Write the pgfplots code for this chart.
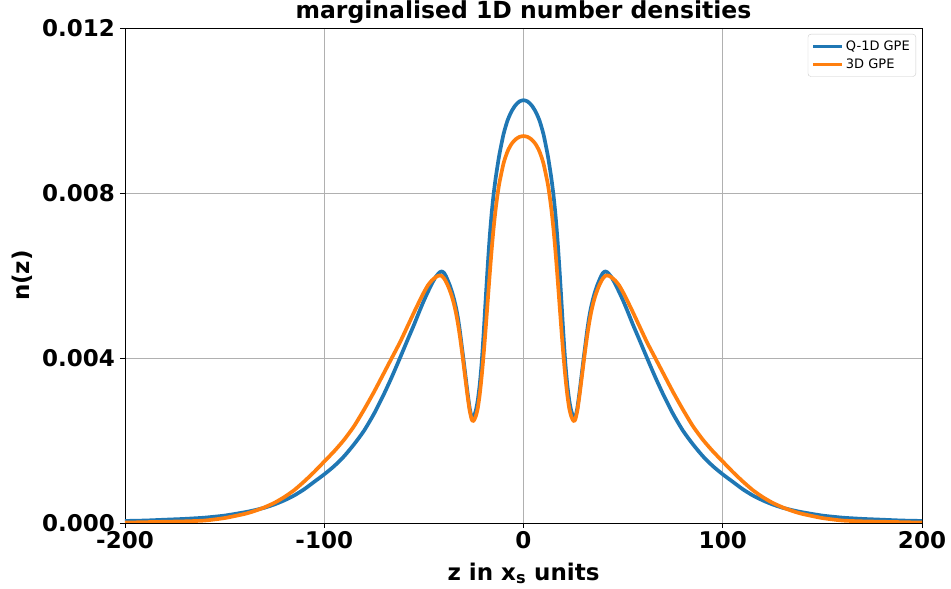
\documentclass[border=0pt]{standalone}
\usepackage{fontspec}
\setmainfont{DejaVu Sans}
\usepackage{pgfplots}
\usepackage{pgfplotstable}
\pgfplotsset{compat=1.18}

\definecolor{mplblue}{HTML}{1F77B4}
\definecolor{mplorange}{HTML}{FF7F0E}
\definecolor{gridgrey}{HTML}{B0B0B0}
\definecolor{framegrey}{HTML}{CCCCCC}

% marginalised 1D density, quasi-1D GPE
\pgfplotstableread{
z n
-200 0.00005
-190 0.00006
-180 0.00008
-170 0.00010
-160 0.00013
-150 0.00018
-140 0.00026
-135 0.00031
-130 0.00037
-125 0.00045
-120 0.00055
-115 0.00067
-110 0.00082
-105 0.00100
-100 0.00118
-95 0.00138
-90 0.00162
-85 0.00191
-80 0.00224
-75 0.00265
-70 0.00313
-66 0.00355
-62 0.00400
-58 0.00446
-55 0.00480
-52 0.00516
-50 0.00539
-48 0.00560
-46 0.00580
-44 0.00597
-43 0.00603
-42 0.00608
-41 0.00610
-40 0.00607
-39 0.00599
-38 0.00588
-37 0.00576
-36 0.00562
-35 0.00545
-34 0.00525
-33 0.00500
-32 0.00468
-31 0.00430
-30 0.00392
-29 0.00352
-28 0.00313
-27 0.00278
-26 0.00256
-25.5 0.00253
-25 0.00257
-24 0.00271
-23 0.00296
-22 0.00334
-21 0.00388
-20 0.00460
-19 0.00541
-18 0.00620
-17 0.00691
-16 0.00750
-15 0.00797
-14 0.00835
-13 0.00867
-12 0.00896
-10 0.00943
-8 0.00976
-6 0.00998
-4 0.01013
-2 0.01022
0 0.01025
2 0.01022
4 0.01013
6 0.00998
8 0.00976
10 0.00943
12 0.00896
13 0.00867
14 0.00835
15 0.00797
16 0.00750
17 0.00691
18 0.00620
19 0.00541
20 0.00460
21 0.00388
22 0.00334
23 0.00296
24 0.00271
25 0.00257
25.5 0.00253
26 0.00256
27 0.00278
28 0.00313
29 0.00352
30 0.00392
31 0.00430
32 0.00468
33 0.00500
34 0.00525
35 0.00545
36 0.00562
37 0.00576
38 0.00588
39 0.00599
40 0.00607
41 0.00610
42 0.00608
43 0.00603
44 0.00597
46 0.00580
48 0.00560
50 0.00539
52 0.00516
55 0.00480
58 0.00446
62 0.00400
66 0.00355
70 0.00313
75 0.00265
80 0.00224
85 0.00191
90 0.00162
95 0.00138
100 0.00118
105 0.00100
110 0.00082
115 0.00067
120 0.00055
125 0.00045
130 0.00037
135 0.00031
140 0.00026
150 0.00018
160 0.00013
170 0.00010
180 0.00008
190 0.00006
200 0.00005
}\qonedtable

% marginalised 1D density, full 3D GPE
\pgfplotstableread{
z n
-200 0.00001
-190 0.00002
-180 0.00003
-170 0.00004
-160 0.00006
-150 0.00012
-140 0.00022
-135 0.00029
-130 0.00038
-125 0.00049
-120 0.00063
-115 0.00080
-110 0.00101
-105 0.00124
-100 0.00149
-95 0.00174
-90 0.00202
-85 0.00235
-80 0.00275
-75 0.00318
-70 0.00364
-66 0.00401
-62 0.00438
-58 0.00479
-55 0.00510
-52 0.00540
-50 0.00559
-48 0.00576
-46 0.00588
-44 0.00596
-43 0.00599
-42 0.00600
-41 0.00599
-40 0.00594
-39 0.00586
-38 0.00576
-37 0.00564
-36 0.00550
-35 0.00533
-34 0.00512
-33 0.00486
-32 0.00455
-31 0.00420
-30 0.00382
-29 0.00343
-28 0.00305
-27 0.00272
-26 0.00251
-25.5 0.00247
-25 0.00248
-24 0.00258
-23 0.00277
-22 0.00310
-21 0.00355
-20 0.00409
-19 0.00470
-18 0.00535
-17 0.00600
-16 0.00661
-15 0.00715
-14 0.00760
-13 0.00797
-12 0.00827
-10 0.00872
-8 0.00901
-6 0.00919
-4 0.00930
-2 0.00936
0 0.00938
2 0.00936
4 0.00930
6 0.00919
8 0.00901
10 0.00872
12 0.00827
13 0.00797
14 0.00760
15 0.00715
16 0.00661
17 0.00600
18 0.00535
19 0.00470
20 0.00409
21 0.00355
22 0.00310
23 0.00277
24 0.00258
25 0.00248
25.5 0.00247
26 0.00251
27 0.00272
28 0.00305
29 0.00343
30 0.00382
31 0.00420
32 0.00455
33 0.00486
34 0.00512
35 0.00533
36 0.00550
37 0.00564
38 0.00576
39 0.00586
40 0.00594
41 0.00599
42 0.00600
43 0.00599
44 0.00596
46 0.00588
48 0.00576
50 0.00559
52 0.00540
55 0.00510
58 0.00479
62 0.00438
66 0.00401
70 0.00364
75 0.00318
80 0.00275
85 0.00235
90 0.00202
95 0.00174
100 0.00149
105 0.00124
110 0.00101
115 0.00080
120 0.00063
125 0.00049
130 0.00038
135 0.00029
140 0.00022
150 0.00012
160 0.00006
170 0.00004
180 0.00003
190 0.00002
200 0.00001
}\threedtable

\begin{document}
\begin{tikzpicture}
\begin{axis}[
  scale only axis,
  width=797pt, height=495pt,
  xmin=-200, xmax=200, ymin=0, ymax=0.012,
  xtick={-200,-100,0,100,200},
  xticklabels={-200,-100,0,100,200},
  ytick={0,0.004,0.008,0.012},
  yticklabels={0.000,0.004,0.008,0.012},
  scaled y ticks=false,
  tick align=outside,
  xtick pos=bottom, ytick pos=left,
  major tick length=5pt,
  every tick/.style={black, line width=0.8pt},
  axis line style={black, line width=0.9pt},
  grid=major,
  major grid style={gridgrey, line width=0.8pt},
  tick label style={font=\bfseries\fontsize{23}{24}\selectfont},
  xticklabel style={inner sep=3pt},
  yticklabel style={inner sep=5pt},
  title={marginalised 1D number densities},
  title style={font=\bfseries\fontsize{23.5}{24}\selectfont,
    at={(axis description cs:0.5,1)}, anchor=base, yshift=3pt},
  xlabel={z in x\textsubscript{s} units},
  xlabel style={font=\bfseries\fontsize{23}{24}\selectfont,
    at={(axis description cs:0.5,-0.1152)}, anchor=base},
  ylabel={n(z)},
  ylabel style={font=\bfseries\fontsize{23}{24}\selectfont,
    at={(axis description cs:-0.1292,0.5)}, anchor=center},
  legend cell align=left,
  legend style={at={(axis description cs:1,1)}, anchor=north east,
    xshift=-6pt, yshift=-6pt,
    draw=framegrey, rounded corners=3pt, fill=white,
    font=\fontsize{13}{15}\selectfont,
    inner xsep=4pt, inner ysep=4.5pt, row sep=3pt},
  legend image code/.code={\draw[#1, line width=3pt] (0pt,0pt) -- (29pt,0pt);},
]
\addplot[mplblue, line width=3.7pt, line join=round, smooth, tension=0.4]
  table[x=z, y=n] {\qonedtable};
\addlegendentry{Q-1D GPE}
\addplot[mplorange, line width=3.7pt, line join=round, smooth, tension=0.4]
  table[x=z, y=n] {\threedtable};
\addlegendentry{3D GPE}
\end{axis}
\pgfresetboundingbox
\path[use as bounding box] (-125pt,-66pt) rectangle (826pt,523pt);
\end{tikzpicture}
\end{document}
